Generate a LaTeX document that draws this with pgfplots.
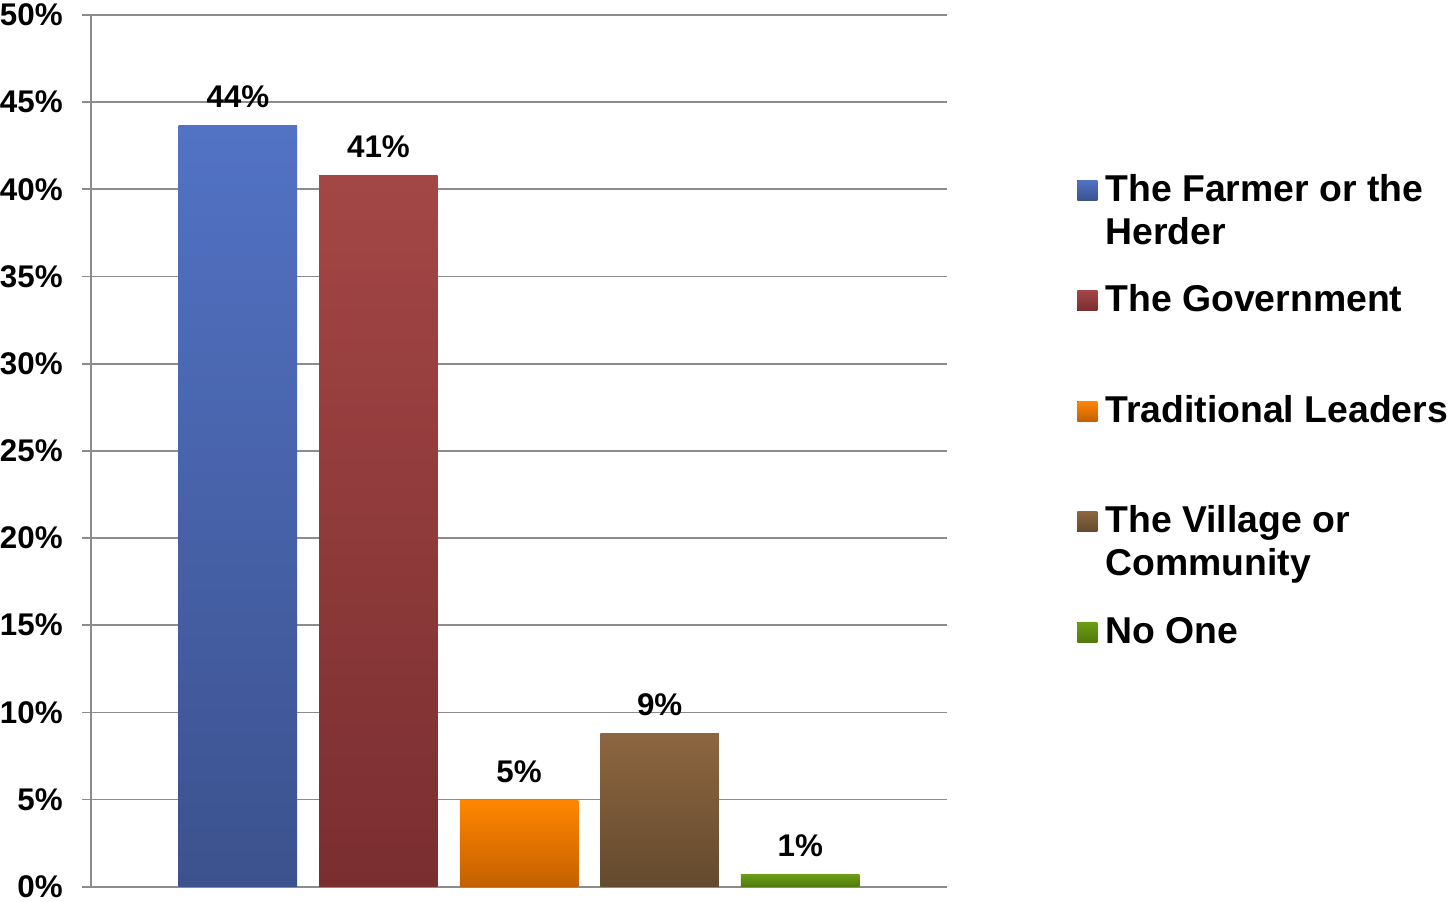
\documentclass[border=0pt]{standalone}
\usepackage{pgfplots}
\pgfplotsset{compat=1.18}
\usepackage{fontspec}
\setmainfont{Liberation Sans}

\definecolor{blueT}{RGB}{82,114,196}
\definecolor{blueB}{RGB}{60,82,142}
\definecolor{redT}{RGB}{164,70,70}
\definecolor{redB}{RGB}{122,46,48}
\definecolor{oraT}{RGB}{255,134,0}
\definecolor{oraB}{RGB}{196,96,0}
\definecolor{broT}{RGB}{141,102,64}
\definecolor{broB}{RGB}{100,74,46}
\definecolor{grnT}{RGB}{108,158,22}
\definecolor{grnB}{RGB}{80,122,14}
\definecolor{gridc}{RGB}{140,140,140}

\newcommand{\leg}[2]{\begin{tabular}[t]{@{}l@{}}#1\\#2\end{tabular}}

\begin{document}
\begin{tikzpicture}
\begin{axis}[
  scale only axis, width=426pt, height=434pt,
  xmin=-1.043, xmax=5.043, ymin=0, ymax=50,
  axis lines*=left,
  axis line style={gridc, line width=0.9pt},
  xtick=\empty,
  ytick={0,5,10,15,20,25,30,35,40,45,50},
  yticklabels={0\%,5\%,10\%,15\%,20\%,25\%,30\%,35\%,40\%,45\%,50\%},
  ymajorgrids,
  major grid style={gridc, line width=0.9pt},
  tick align=outside, major tick length=4.5pt,
  ytick style={gridc, line width=0.9pt},
  yticklabel style={font=\bfseries\fontsize{15.6}{18}\selectfont, anchor=east, inner sep=0pt, xshift=-9.5pt},
  ybar, bar width=59pt,
  /pgf/number format/assume math mode=true,
  nodes near coords={\pgfmathprintnumber[fixed,precision=0]{\pgfplotspointmeta}\%},
  every node near coord/.append style={font=\bfseries\fontsize{15.6}{18}\selectfont, anchor=south, inner sep=0pt, yshift=8.5pt, text=black},
  legend style={draw=none, fill=none,
    at={(axis description cs:1.152,0.8215)}, anchor=north west,
    inner sep=0pt, row sep=12pt, column sep=4pt,
    font=\bfseries\fontsize{18.6}{21.5}\selectfont,
    cells={anchor=base west}, nodes={inner sep=0pt}},
  legend image code/.code={%
    \pgfpathrectangle{\pgfpoint{0pt}{-27.95pt}}{\pgfpoint{10pt}{43pt}}\pgfusepath{}%
    \fill[#1] (0pt,0.5pt) rectangle (10pt,10.5pt);},
]
\addplot[bar shift=0pt, draw=none, top color=blueT, bottom color=blueB] coordinates {(0,43.67)};
\addplot[bar shift=0pt, draw=none, top color=redT, bottom color=redB] coordinates {(1,40.79)};
\addplot[bar shift=0pt, draw=none, top color=oraT, bottom color=oraB] coordinates {(2,4.94)};
\addplot[bar shift=0pt, draw=none, top color=broT, bottom color=broB] coordinates {(3,8.80)};
\addplot[bar shift=0pt, draw=none, top color=grnT, bottom color=grnB] coordinates {(4,0.73)};
\legend{\leg{The Farmer or the}{Herder},
        \leg{The Government}{\mbox{}},
        \leg{Traditional Leaders}{\mbox{}},
        \leg{The Village or}{Community},
        \leg{No One}{\mbox{}}}
\end{axis}
\path ([xshift=-45pt,yshift=-7.5pt]current axis.south west) rectangle ([yshift=7.5pt]current axis.north west);
\end{tikzpicture}
\end{document}
